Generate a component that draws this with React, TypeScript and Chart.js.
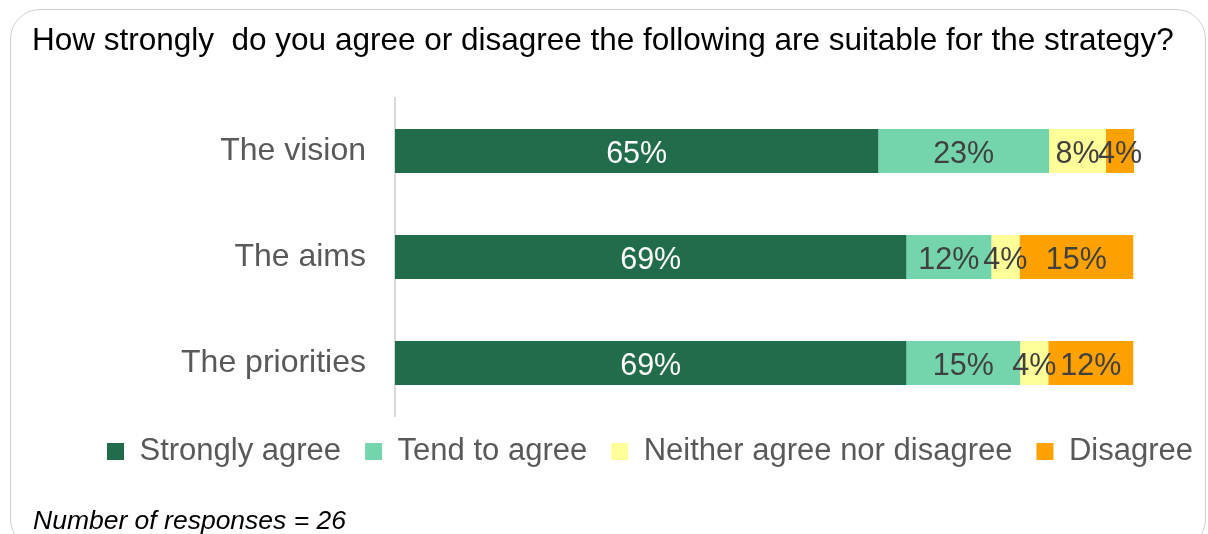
import React, { useEffect, useRef } from "react";
import { Chart, registerables } from "chart.js";

Chart.register(...registerables);

const categories = ["The vision", "The aims", "The priorities"];
const seriesNames = ["Strongly agree", "Tend to agree", "Neither agree nor disagree", "Disagree"];
const stronglyAgree = [65.4, 69.2, 69.2];
const tendToAgree = [23.1, 11.5, 15.4];
const neitherAgree = [7.7, 3.8, 3.8];
const disagree = [3.8, 15.4, 11.5];
const seriesColors = ["#216C4A", "#74D5AD", "#FFFF99", "#FFA100"];
const labelColors = ["#FFFFFF", "#404040", "#404040", "#404040"];
const titleText = "How strongly  do you agree or disagree the following are suitable for the strategy?";
const footnoteText = "Number of responses = 26";

const FONT = "'Liberation Sans', Arial, Helvetica, sans-serif";

const valueLabelPlugin = {
  id: "valueLabels",
  afterDatasetsDraw(chart: any) {
    const ctx = chart.ctx;
    ctx.save();
    ctx.font = `30.5px ${FONT}`;
    ctx.textAlign = "center";
    ctx.textBaseline = "middle";
    chart.data.datasets.forEach((ds: any, di: number) => {
      const meta = chart.getDatasetMeta(di);
      meta.data.forEach((bar: any, i: number) => {
        const v = ds.data[i];
        const p = bar.getProps(["x", "y", "base"], true);
        ctx.fillStyle = labelColors[di];
        ctx.fillText(Math.round(v) + "%", (p.x + p.base) / 2, p.y + 4);
      });
    });
    ctx.restore();
  },
};

const legendShiftPlugin = {
  id: "legendShift",
  afterLayout(chart: any) {
    if (chart.legend) {
      chart.legend.top -= 4;
      chart.legend.bottom -= 4;
    }
  },
};

export default function App() {
  const canvasRef = useRef<HTMLCanvasElement | null>(null);

  useEffect(() => {
    if (!canvasRef.current) return;
    Chart.defaults.font.family = FONT;
    const seriesData = [stronglyAgree, tendToAgree, neitherAgree, disagree];
    const chart = new Chart(canvasRef.current, {
      type: "bar",
      data: {
        labels: categories,
        datasets: seriesNames.map((name, i) => ({
          label: name,
          data: seriesData[i],
          backgroundColor: seriesColors[i],
          borderWidth: 0,
          categoryPercentage: 1,
          barPercentage: 0.415,
        })),
      },
      options: {
        indexAxis: "y",
        responsive: false,
        animation: false,
        devicePixelRatio: 1,
        layout: { padding: { top: 98, bottom: 53, left: 0, right: 0 } },
        scales: {
          x: { stacked: true, min: 0, max: 100, display: false },
          y: {
            stacked: true,
            grid: { display: false, drawTicks: false },
            border: { display: true, color: "#D9D9D9", width: 2 },
            ticks: { font: { size: 32 }, color: "#595959", padding: 29 },
            afterFit: (s: any) => {
              s.width = 349;
            },
          },
          y2: {
            type: "category",
            position: "right",
            grid: { display: false, drawTicks: false },
            border: { display: false },
            ticks: { display: false },
            afterFit: (s: any) => {
              s.width = 120;
            },
          },
        },
        plugins: {
          legend: {
            position: "bottom",
            labels: {
              boxWidth: 17,
              boxHeight: 17,
              padding: 24,
              color: "#595959",
              font: { size: 31 },
            },
          },
          tooltip: { enabled: false },
          title: { display: false },
        },
      },
      plugins: [valueLabelPlugin, legendShiftPlugin],
    } as any);
    return () => chart.destroy();
  }, []);

  return (
    <div
      style={{
        position: "fixed",
        left: 0,
        top: 0,
        width: 1208,
        height: 534,
        overflow: "hidden",
        background: "#FFFFFF",
      }}
    >
      <div
        style={{
          position: "absolute",
          left: 10,
          top: 9,
          width: 1196,
          height: 540,
          boxSizing: "border-box",
          border: "1px solid #CFCFCF",
          borderRadius: 30,
        }}
      />
      <canvas
        ref={canvasRef}
        width={1208}
        height={534}
        style={{ position: "absolute", left: 46, top: 0 }}
      />
      <div
        style={{
          position: "absolute",
          left: 32,
          top: 24,
          fontFamily: FONT,
          fontSize: 31.5,
          lineHeight: 1,
          color: "#000000",
          whiteSpace: "pre",
        }}
      >
        {titleText}
      </div>
      <div
        style={{
          position: "absolute",
          left: 33,
          top: 507,
          fontFamily: FONT,
          fontSize: 26.5,
          fontStyle: "italic",
          lineHeight: 1,
          color: "#000000",
          whiteSpace: "pre",
        }}
      >
        {footnoteText}
      </div>
    </div>
  );
}
